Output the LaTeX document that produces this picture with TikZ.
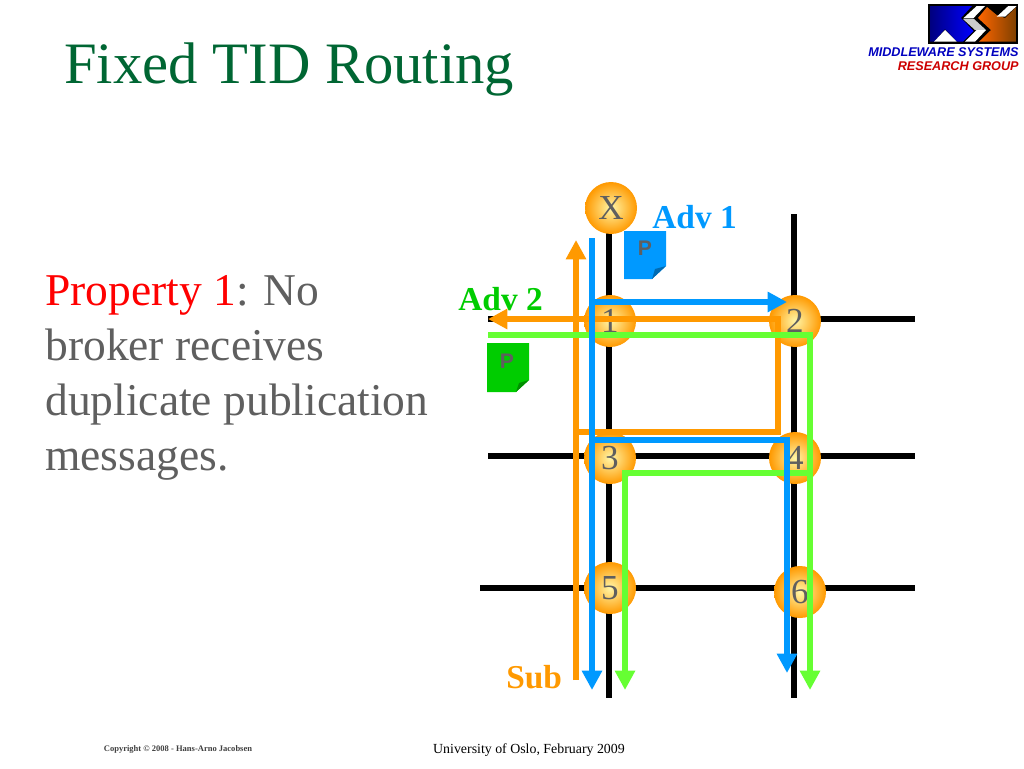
\documentclass[tikz,border=0pt]{standalone}
\usepackage{fontspec}
\setmainfont{Liberation Serif}
\newfontfamily\logofont{Liberation Sans}
\usetikzlibrary{arrows.meta,positioning}
\definecolor{advblue}{HTML}{0099FF}
\definecolor{subor}{HTML}{FF9900}
\definecolor{lgreen}{HTML}{66FF33}
\definecolor{dgreen}{HTML}{00CC00}
\definecolor{titlegreen}{HTML}{006633}
\definecolor{bodygray}{HTML}{5F5F5F}
\definecolor{brokeryel}{HTML}{FFF6A8}
\tikzset{
  broker/.style={circle,minimum size=1.04cm,inner sep=0pt,text=bodygray,font=\fontsize{20}{20}\selectfont,
    inner color=brokeryel,outer color=subor},
  wire/.style={line width=3.5pt,black},
  route/.style={line width=3.7pt,line join=miter},
  head/.style={-{Triangle[length=11pt,width=11pt]}},
  lab/.style={inner sep=0pt,anchor=base west,font=\bfseries\fontsize{19}{19}\selectfont},
  body/.style={inner sep=0pt,anchor=base west,text=bodygray,font=\fontsize{25.9}{25.9}\selectfont},
  pmark/.style={inner sep=0pt,text=bodygray,font=\logofont\bfseries\fontsize{12}{12}\selectfont},
  logotext/.style={inner sep=0pt,anchor=east,font=\logofont\bfseries\itshape\fontsize{7.2}{7.2}\selectfont}
}
\begin{document}
\begin{tikzpicture}[x=0.02cm,y=0.02cm]
\useasboundingbox (0,-768) rectangle (1024,0);
% grid ends
\coordinate (xt) at (609,-208);
\coordinate (vb1) at (609,-698);
\coordinate (vt2) at (794,-214);
\coordinate (vb2) at (794,-698);
\coordinate (h1l) at (488,-319);
\coordinate (h1r) at (915,-319);
\coordinate (h2l) at (488,-456);
\coordinate (h2r) at (915,-456);
\coordinate (h3l) at (480,-588);
\coordinate (h3r) at (915,-588);
\draw [wire] (xt) -- (vb1);
\draw [wire] (vt2) -- (vb2);
\draw [wire] (h1l) -- (h1r);
\draw [wire] (h2l) -- (h2r);
\draw [wire] (h3l) -- (h3r);
% brokers
\node [broker] (bx) at (611,-208) {X};
\node [broker] (b1) at (610,-321) {1};
\node [broker] (b2) at (795,-321) {2};
\node [broker] (b3) at (610,-458) {3};
\node [broker] (b4) at (795,-458) {4};
\node [broker] (b5) at (610,-588) {5};
\node [broker] (b6) at (800,-592) {6};
% orange
\coordinate (o1) at (576,-680);
\coordinate (o2) at (576,-240);
\coordinate (o3) at (576,-432);
\coordinate (o4) at (778,-432);
\coordinate (o5) at (778,-319);
\coordinate (o6) at (488,-319);
\draw [route,subor,head] (o1) -- (o2);
\draw [route,subor,head] (o3) -- (o4) -- (o5) -- (o6);
% green
\coordinate (g1) at (488,-335);
\coordinate (g2) at (810,-335);
\coordinate (g3) at (810,-690);
\coordinate (g4) at (810,-473);
\coordinate (g5) at (625,-473);
\coordinate (g6) at (625,-690);
\draw [route,lgreen,head] (g1) -- (g2) -- (g3);
\draw [route,lgreen,head] (g4) -- (g5) -- (g6);
% blue
\coordinate (a1) at (592,-238);
\coordinate (a2) at (592,-690);
\coordinate (a3) at (592,-302);
\coordinate (a4) at (787,-302);
\coordinate (a5) at (592,-440);
\coordinate (a6) at (787,-440);
\coordinate (a7) at (787,-673);
\draw [route,advblue,head] (a1) -- (a2);
\draw [route,advblue,head] (a3) -- (a4);
\draw [route,advblue,head] (a5) -- (a6) -- (a7);
% publication notes
\fill [advblue] (624,-231) -- (666,-231) -- (666,-266) -- (652,-279) -- (624,-279) -- cycle;
\fill [advblue!70!black] (666,-266) -- (652,-279) -- (655,-269) -- cycle;
\node [pmark] (p1) at (645,-248) {P};
\fill [dgreen] (487,-343) -- (529,-343) -- (529,-380) -- (516,-392) -- (487,-392) -- cycle;
\fill [dgreen!70!black] (529,-380) -- (516,-392) -- (519,-383) -- cycle;
\node [pmark] (p2) at (507,-361) {P};
% labels
\node [lab,text=advblue] (adv1) at (652,-228) {Adv 1};
\node [lab,text=dgreen] (adv2) at (458,-310) {Adv 2};
\node [lab,text=subor] (sub) at (506,-688) {Sub};
% slide text
\node [inner sep=0pt,anchor=base west,text=titlegreen,font=\fontsize{33.4}{33.4}\selectfont] (title) at (64,-83) {Fixed TID Routing};
\node [body] (l1) at (45,-305) {\textcolor{red}{Property 1}: No};
\node [body] (l2) at (45,-360) {broker receives};
\node [body] (l3) at (45,-415) {duplicate publication};
\node [body] (l4) at (45,-470) {messages.};
\node [inner sep=0pt,text=black,font=\fontsize{7.9}{7.9}\selectfont] (uni) at (529,-750) {University of Oslo, February 2009};
\node [inner sep=0pt,text=black!75,font=\bfseries\fontsize{4.85}{4.85}\selectfont] (copy) at (178,-749) {Copyright \textcopyright{} 2008 - Hans-Arno Jacobsen};
% logo
\fill [black] (928,-4) rectangle (1018,-44);
\shade [left color=blue!50!black,right color=blue] (930,-6) -- (972,-6) -- (961,-18) -- (973.5,-31) -- (963,-41.7) -- (957,-41.7) -- (945,-29) -- (934,-41.7) -- (930,-41.7) -- cycle;
\shade [left color=orange!80!red,right color=orange!50!black] (979,-41.7) -- (991,-30) -- (978,-18) -- (987,-7) -- (996.7,-15) -- (1005,-18) -- (1016,-7) -- (1016,-41.7) -- cycle;
\fill [white] (963.3,-18.3) -- (976.7,-6) -- (985,-6) -- (973.3,-18.3) -- cycle;
\fill [black!20] (963,-19) -- (974,-19) -- (986,-30) -- (975,-30) -- cycle;
\fill [white] (965,-41.7) -- (976.7,-30) -- (986,-30) -- (975,-41.7) -- cycle;
\fill [white] (934,-41.7) -- (945,-30) -- (956.7,-41.7) -- cycle;
\fill [white] (996.7,-16.7) -- (1008.3,-6) -- (1016.7,-6) -- (1005,-16.7) -- cycle;
\node [logotext,text=blue!75!black] (mw) at (1019,-52.5) {MIDDLEWARE SYSTEMS};
\node [logotext,text=red!80!black] (rg) at (1019,-66) {RESEARCH GROUP};
\end{tikzpicture}
\end{document}
